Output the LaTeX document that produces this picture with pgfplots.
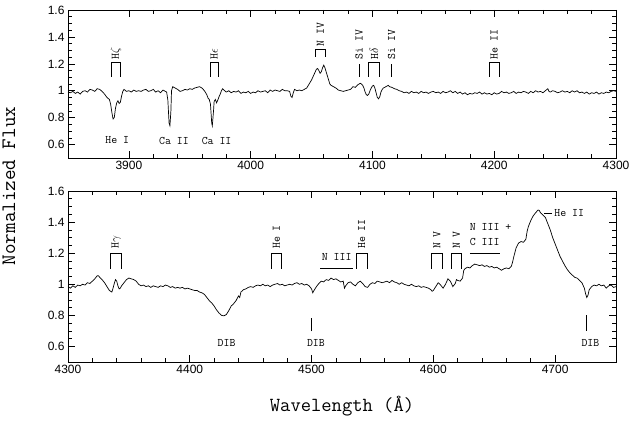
\documentclass[border=0pt]{standalone}
\usepackage{fontspec}
\setmainfont{Liberation Sans}
\usepackage{pgfplots}
\pgfplotsset{compat=1.18}
\tikzset{
  lab/.style={font=\ttfamily\fontsize{11.5}{11.5}\selectfont, inner sep=1pt},
  rlab/.style={lab, rotate=90, anchor=west},
  brk/.style={line width=0.6pt},
}
\begin{document}
\begin{tikzpicture}
\useasboundingbox (0pt,0pt) rectangle (629pt,423pt);
\pgfplotsset{
  panel/.style={
    scale only axis, width=548pt, anchor=south west,
    ymin=0.5, ymax=1.6,
    ytick={0.6,0.8,1,1.2,1.4,1.6},
    minor y tick num=3, minor x tick num=4,
    tick align=inside, xtick pos=both, ytick pos=both,
    xticklabel pos=lower, yticklabel pos=left,
    major tick length=7pt, minor tick length=4pt,
    tick style={black, line width=0.6pt},
    axis line style={line width=0.8pt},
    ticklabel style={font=\fontsize{12}{12}\selectfont},
    /pgf/number format/assume math mode=true,
    /pgf/number format/1000 sep={},
    clip=false,
  },
  spec/.style={black, line width=0.7pt, no marks},
}
% ---------------- top panel ----------------
\begin{axis}[panel, at={(68pt,265pt)}, height=148pt, xmin=3850, xmax=4300,
  xtick={3900,4000,4100,4200,4300}]
\addplot[spec] table {
3850 0.99
3852 0.985
3854 0.995
3856 0.98
3858 0.99
3860 0.975
3862 0.995
3864 1.0
3866 0.99
3868 1.01
3870 1.005
3872 0.995
3874 1.015
3876 1.01
3878 0.995
3880 0.975
3882 0.95
3884 0.935
3885 0.90
3886 0.84
3887 0.79
3888 0.80
3889 0.87
3890 0.91
3891 0.925
3892 0.905
3893 0.915
3894 0.96
3895 0.995
3896 1.01
3898 0.995
3900 1.0
3902 0.99
3904 1.005
3906 0.995
3908 1.0
3910 0.995
3912 1.005
3914 1.01
3916 0.995
3918 1.0
3920 1.01
3922 0.99
3924 1.0
3926 0.985
3928 1.005
3930 0.995
3931 0.99
3932 0.93
3933 0.76
3933.7 0.74
3934.5 0.85
3935 1.0
3936 1.03
3938 1.02
3940 1.01
3942 0.995
3944 1.0
3946 1.01
3948 1.005
3950 1.015
3952 1.01
3954 1.02
3956 1.025
3958 1.03
3960 1.02
3962 1.0
3964 0.97
3965 0.945
3966 0.935
3967 0.90
3968 0.76
3968.5 0.74
3969.5 0.85
3970 0.92
3971 0.935
3972 0.91
3973 0.93
3974 0.955
3975 0.975
3976 1.0
3977 1.015
3978 1.005
3980 0.99
3982 1.0
3984 0.985
3986 0.995
3988 0.99
3990 1.0
3992 0.98
3994 0.99
3996 0.985
3998 0.995
4000 0.98
4002 0.99
4004 0.985
4006 1.0
4008 0.99
4010 0.995
4012 1.0
4014 0.985
4016 1.005
4018 0.995
4020 1.005
4022 1.0
4024 0.995
4026 1.01
4028 1.0
4030 1.0
4032 0.995
4033 0.96
4034 0.95
4035 0.985
4036 1.01
4038 1.0
4040 1.005
4042 1.0
4044 1.01
4046 1.02
4048 1.05
4050 1.08
4052 1.12
4054 1.16
4055 1.165
4056 1.15
4057 1.13
4058 1.14
4059 1.17
4060 1.19
4061 1.17
4062 1.14
4063 1.11
4064 1.08
4065 1.05
4066 1.04
4067 1.035
4068 1.03
4070 1.02
4072 1.005
4074 1.0
4076 0.995
4078 1.0
4080 1.005
4082 1.01
4084 1.03
4086 1.025
4088 1.045
4090 1.055
4091 1.05
4092 1.04
4093 1.02
4094 0.99
4095 0.97
4096 0.965
4097 0.975
4098 1.0
4099 1.02
4100 1.035
4101 1.04
4102 1.02
4103 0.985
4104 0.95
4105 0.94
4106 0.955
4107 0.99
4108 1.01
4109 1.02
4110 1.025
4111 1.03
4112 1.035
4113 1.04
4114 1.03
4116 1.025
4118 1.015
4120 1.01
4122 1.0
4124 0.995
4126 0.985
4128 0.99
4130 0.98
4132 0.995
4134 0.985
4136 0.99
4138 0.98
4140 0.995
4142 0.985
4144 0.99
4146 0.98
4148 0.99
4150 0.995
4152 0.985
4154 0.99
4156 0.98
4158 0.995
4160 0.985
4162 0.99
4164 1.0
4166 0.985
4168 0.995
4170 0.98
4172 0.99
4174 0.975
4176 0.985
4178 0.97
4180 0.98
4182 0.975
4184 0.985
4186 0.98
4188 0.99
4190 0.975
4192 0.985
4194 0.975
4196 0.98
4198 0.97
4200 0.985
4202 0.975
4204 0.98
4206 0.995
4208 0.985
4210 0.99
4212 0.98
4214 0.985
4216 0.995
4218 0.98
4220 0.99
4222 0.985
4224 0.995
4226 0.99
4228 0.98
4230 0.995
4232 0.985
4234 1.0
4236 0.99
4238 0.995
4240 0.985
4242 1.0
4244 1.015
4245 0.995
4246 0.99
4248 1.0
4250 0.995
4252 0.985
4254 0.99
4256 1.0
4258 0.99
4260 0.995
4262 0.985
4264 1.0
4266 0.99
4268 1.0
4270 0.985
4272 0.99
4274 0.98
4276 0.99
4278 0.975
4280 0.985
4282 0.98
4284 0.99
4286 0.975
4288 0.985
4290 0.98
4292 0.99
4294 0.985
4296 0.995
4298 1.0
4300 0.995
};
\draw[brk] (axis cs:3885.9,1.105)--(axis cs:3885.9,1.208)--(axis cs:3892.7,1.208)--(axis cs:3892.7,1.105);
\node[rlab] at (axis cs:3889.3,1.225) {H$\zeta$};
\draw[brk] (axis cs:3966.6,1.105)--(axis cs:3966.6,1.208)--(axis cs:3973.4,1.208)--(axis cs:3973.4,1.105);
\node[rlab] at (axis cs:3970,1.225) {H$\epsilon$};
\draw[brk] (axis cs:4052.8,1.252)--(axis cs:4052.8,1.306)--(axis cs:4061.5,1.306)--(axis cs:4061.5,1.252);
\node[rlab] at (axis cs:4057.2,1.32) {N IV};
\draw[brk] (axis cs:4089,1.105)--(axis cs:4089,1.196);
\node[rlab] at (axis cs:4089,1.225) {Si IV};
\draw[brk] (axis cs:4097,1.105)--(axis cs:4097,1.208)--(axis cs:4105.4,1.208)--(axis cs:4105.4,1.105);
\node[rlab] at (axis cs:4101.2,1.225) {H$\delta$};
\draw[brk] (axis cs:4115.8,1.105)--(axis cs:4115.8,1.196);
\node[rlab] at (axis cs:4115.8,1.225) {Si IV};
\draw[brk] (axis cs:4196,1.105)--(axis cs:4196,1.208)--(axis cs:4204,1.208)--(axis cs:4204,1.105);
\node[rlab] at (axis cs:4200,1.225) {He II};
\node[lab] at (axis cs:3890.5,0.63) {He I};
\node[lab] at (axis cs:3937,0.63) {Ca II};
\node[lab] at (axis cs:3972,0.63) {Ca II};
\end{axis}
% ---------------- bottom panel ----------------
\begin{axis}[panel, at={(68pt,61pt)}, height=171pt, xmin=4300, xmax=4750,
  xtick={4300,4400,4500,4600,4700}]
\addplot[spec] table {
4300 0.985
4302 0.975
4304 0.99
4306 0.98
4308 0.995
4310 0.99
4312 1.0
4314 0.995
4316 1.01
4318 1.005
4320 1.02
4322 1.035
4324 1.055
4325 1.055
4326 1.045
4328 1.03
4330 1.01
4332 0.985
4334 0.96
4336 0.95
4337 0.975
4338 1.005
4339 1.03
4340 1.02
4341 0.99
4342 0.97
4343 0.975
4344 0.99
4346 1.01
4348 1.03
4350 1.04
4352 1.035
4354 1.03
4356 1.02
4358 1.0
4360 0.99
4362 0.995
4364 0.985
4366 0.99
4368 0.98
4370 0.99
4372 0.985
4374 0.98
4376 0.99
4378 0.985
4380 0.995
4382 0.99
4384 0.98
4386 0.985
4388 0.975
4390 0.98
4392 0.975
4394 0.98
4396 0.97
4398 0.975
4400 0.97
4402 0.965
4404 0.96
4406 0.96
4408 0.95
4410 0.945
4412 0.935
4414 0.915
4416 0.895
4418 0.88
4420 0.86
4422 0.835
4424 0.815
4426 0.80
4428 0.797
4430 0.805
4432 0.83
4434 0.86
4436 0.875
4438 0.895
4440 0.925
4441 0.915
4442 0.95
4444 0.965
4446 0.97
4448 0.98
4450 0.985
4452 0.98
4454 0.99
4456 0.995
4458 0.99
4460 1.0
4462 0.99
4464 0.995
4466 0.985
4468 0.995
4470 1.0
4472 1.005
4474 0.995
4476 1.0
4478 0.99
4480 0.995
4482 1.0
4484 0.995
4486 1.005
4488 1.01
4490 1.0
4492 1.005
4494 0.995
4496 1.0
4498 0.99
4500 0.97
4501 0.945
4502 0.96
4504 0.985
4506 1.005
4508 1.02
4510 1.015
4512 1.03
4514 1.025
4516 1.04
4518 1.03
4520 1.035
4522 1.025
4524 1.015
4526 1.02
4527 0.975
4528 0.99
4530 1.01
4532 1.015
4534 1.0
4536 0.99
4538 1.01
4540 1.02
4542 1.005
4544 0.985
4546 0.98
4548 1.0
4550 1.01
4552 1.005
4554 1.02
4556 1.015
4558 1.01
4560 1.015
4562 1.02
4564 1.01
4566 1.025
4568 1.015
4570 1.01
4572 1.0
4574 1.01
4576 1.0
4578 0.995
4580 0.99
4582 1.0
4584 0.99
4586 0.985
4588 0.99
4590 0.98
4592 0.985
4594 0.98
4596 0.975
4598 0.965
4599 0.955
4600 0.96
4602 0.985
4604 1.01
4606 0.995
4608 0.975
4610 1.0
4612 1.035
4614 1.02
4616 0.985
4618 1.005
4619 1.03
4620 1.025
4622 1.02
4624 1.04
4625 1.09
4626 1.10
4628 1.11
4630 1.105
4632 1.12
4634 1.13
4636 1.125
4638 1.12
4640 1.125
4642 1.115
4644 1.12
4646 1.11
4648 1.115
4650 1.105
4652 1.11
4654 1.1
4656 1.09
4658 1.1
4660 1.105
4662 1.1
4664 1.115
4665 1.14
4666 1.175
4668 1.235
4670 1.265
4672 1.275
4674 1.27
4676 1.29
4677 1.34
4678 1.37
4680 1.41
4682 1.44
4684 1.46
4686 1.478
4687 1.475
4688 1.46
4690 1.445
4692 1.43
4694 1.39
4696 1.35
4698 1.30
4700 1.26
4702 1.22
4704 1.18
4706 1.15
4708 1.12
4710 1.095
4712 1.075
4714 1.06
4716 1.045
4718 1.04
4720 1.025
4722 1.01
4724 0.975
4725 0.94
4726 0.915
4727 0.93
4728 0.965
4730 0.985
4732 0.995
4734 0.99
4736 1.0
4738 0.99
4740 0.995
4742 0.975
4744 0.99
4746 0.995
4748 0.98
4750 0.985
};
\draw[brk] (axis cs:4335.1,1.1)--(axis cs:4335.1,1.2)--(axis cs:4344.1,1.2)--(axis cs:4344.1,1.1);
\node[rlab] at (axis cs:4339.6,1.22) {H$\gamma$};
\draw[brk] (axis cs:4466.7,1.1)--(axis cs:4466.7,1.2)--(axis cs:4475.5,1.2)--(axis cs:4475.5,1.1);
\node[rlab] at (axis cs:4471.1,1.22) {He I};
\draw[brk] (axis cs:4536.5,1.1)--(axis cs:4536.5,1.2)--(axis cs:4545.8,1.2)--(axis cs:4545.8,1.1);
\node[rlab] at (axis cs:4541.2,1.22) {He II};
\draw[brk] (axis cs:4598.6,1.1)--(axis cs:4598.6,1.2)--(axis cs:4607.4,1.2)--(axis cs:4607.4,1.1);
\node[rlab] at (axis cs:4603,1.22) {N V};
\draw[brk] (axis cs:4614.5,1.1)--(axis cs:4614.5,1.2)--(axis cs:4623.3,1.2)--(axis cs:4623.3,1.1);
\node[rlab] at (axis cs:4618.9,1.22) {N V};
\draw[brk] (axis cs:4507,1.1)--(axis cs:4534.3,1.1);
\node[lab, anchor=base] at (axis cs:4520.6,1.15) {N III};
\draw[brk] (axis cs:4630.1,1.2)--(axis cs:4654.7,1.2);
\node[lab, anchor=base west] at (axis cs:4629,1.345) {N III +};
\node[lab, anchor=base west] at (axis cs:4629,1.248) {C III};
\draw[brk] (axis cs:4690.9,1.454)--(axis cs:4697.2,1.454);
\node[lab, anchor=west] at (axis cs:4698.5,1.46) {He II};
\draw[brk] (axis cs:4499.5,0.697)--(axis cs:4499.5,0.783);
\draw[brk] (axis cs:4726,0.70)--(axis cs:4726,0.80);
\node[lab] at (axis cs:4430.2,0.62) {DIB};
\node[lab] at (axis cs:4503.6,0.62) {DIB};
\node[lab] at (axis cs:4729,0.62) {DIB};
\end{axis}
\node[rotate=90, font=\ttfamily\fontsize{20.5}{20.5}\selectfont] at (9pt,237pt) {Normalized Flux};
\node[font=\ttfamily\fontsize{20}{20}\selectfont] at (342pt,17pt) {Wavelength (Å)};
\end{tikzpicture}
\end{document}
